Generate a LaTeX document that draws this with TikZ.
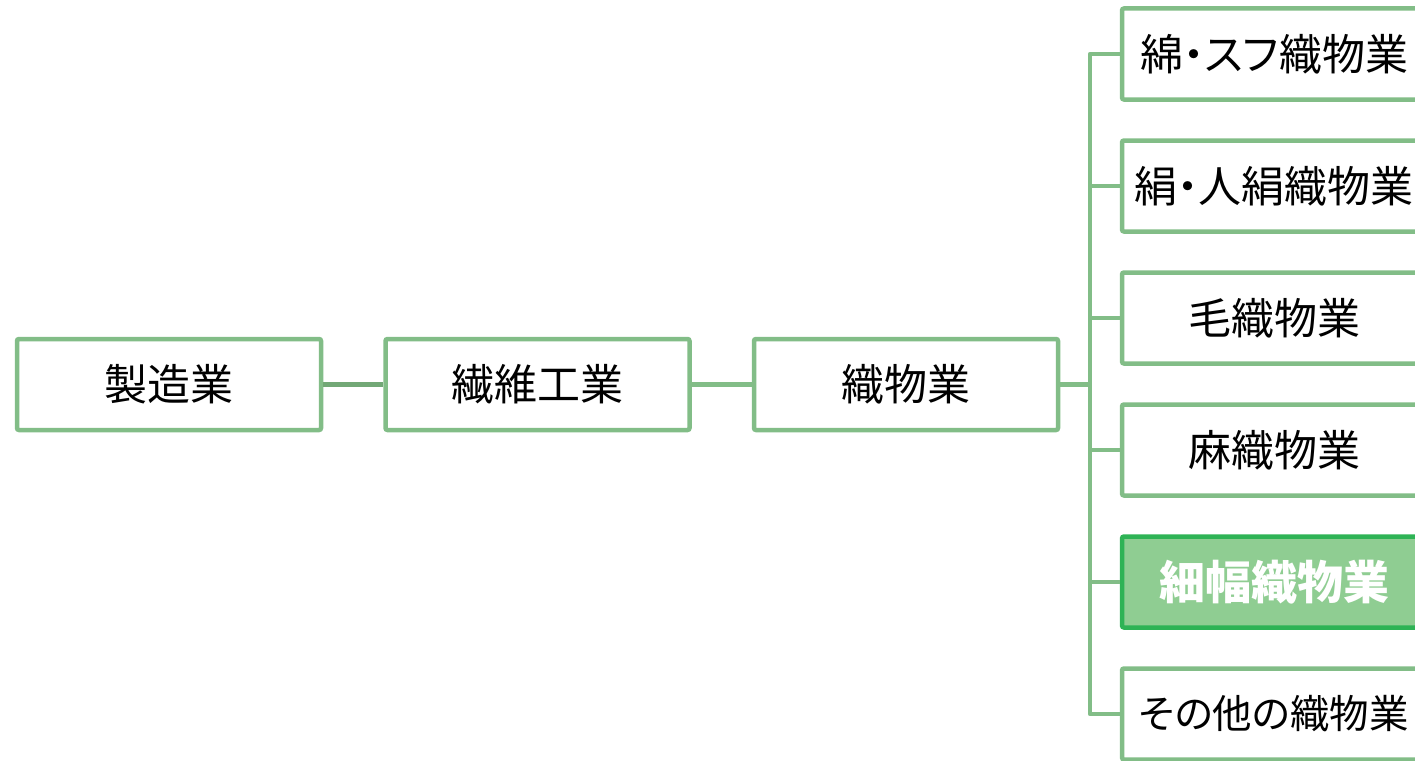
\documentclass[tikz,border=0pt]{standalone}
\usepackage{fontspec}
\setmainfont{Noto Sans CJK JP}[RawFeature={+palt}]
\definecolor{lg}{HTML}{82BD87}
\definecolor{dg}{HTML}{72A876}
\definecolor{hf}{HTML}{8FCD92}
\definecolor{hb}{HTML}{2EB355}
\tikzset{
  box/.style={draw=lg, line width=4.5pt, rounded corners=2pt, fill=white,
    minimum width=304pt, minimum height=91pt, inner sep=0pt,
    font=\fontsize{43}{48}\selectfont, text=black},
  hbox/.style={box, draw=hb, fill=hf, text=white, font=\fontsize{46}{50}\selectfont\bfseries},
  conn/.style={draw=lg, line width=4.5pt}
}
\begin{document}
\begin{tikzpicture}[x=1pt,y=-1pt]
\useasboundingbox (0,0) rectangle (1415,760);
\clip (0,0) rectangle (1415,760);
\node[box] (m) at (169,384.5) {製造業};
\node[box] (s) at (537.5,384.5) {繊維工業};
\node[box] (o) at (906,384.5) {織物業};
\node[box] (a) at (1274,54) {綿・スフ織物業};
\node[box] (b) at (1274,186) {絹・人絹織物業};
\node[box] (c) at (1274,318) {毛織物業};
\node[box] (d) at (1274,450) {麻織物業};
\node[hbox] (e) at (1274,582) {細幅織物業};
\node[box, font=\fontsize{39.5}{46}\selectfont] (f) at (1274,714) {その他の織物業};
\coordinate (t) at (1090,384.5);
\draw[conn, draw=dg] (m.east) -- (s.west);
\draw[conn] (s.east) -- (o.west);
\draw[conn] (o.east) -- (t);
\foreach \n in {a,b,c,d,e,f} {
  \draw[conn, line join=round] (t) |- (\n.west);
}
\end{tikzpicture}
\end{document}
